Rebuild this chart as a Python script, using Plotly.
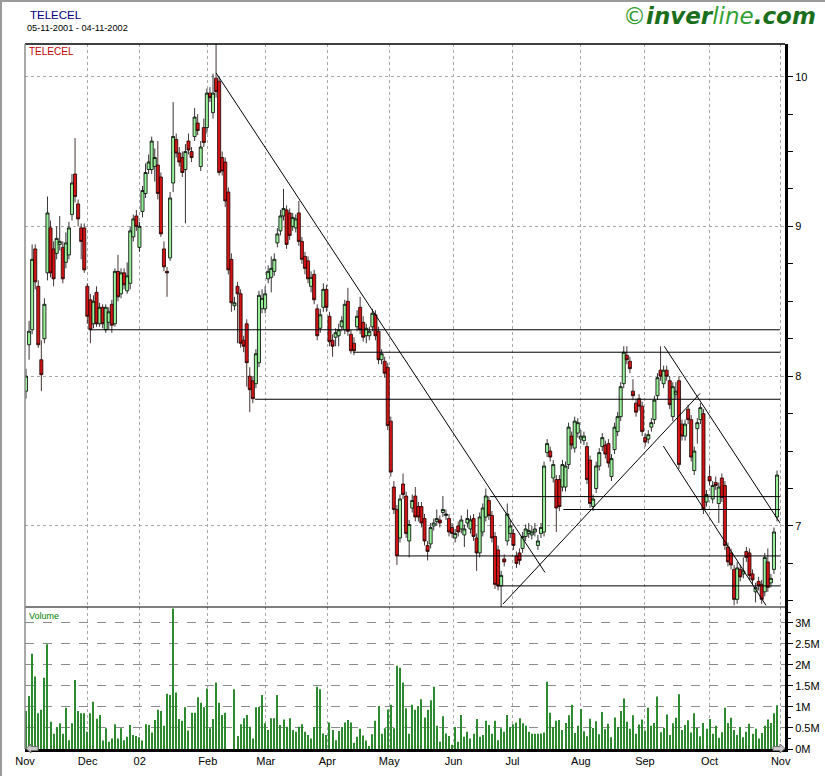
import plotly.graph_objects as go

# ---------------- data ----------------
opens = [7.90,8.21,8.31,8.85,8.60,8.11,8.25,8.69,8.99,8.85,
         8.82,8.88,8.86,8.76,8.81,9.08,9.35,9.15,8.99,8.99,
         8.60,8.51,8.35,8.56,8.35,8.46,8.31,8.36,8.48,8.35,
         8.70,8.55,8.69,8.57,8.62,8.93,9.07,8.86,9.10,9.22,
         9.38,9.38,9.40,9.41,9.33,8.85,8.70,8.79,9.29,9.58,
         9.49,9.46,9.38,9.57,9.50,9.60,9.69,9.40,9.66,9.66,
         9.89,9.76,9.99,9.97,9.46,9.43,9.23,8.78,8.47,8.60,
         8.55,8.24,8.35,8.00,7.97,7.95,8.09,8.45,8.45,8.65,
         8.66,8.70,8.89,8.97,9.07,9.11,9.09,9.00,8.99,9.09,
         8.90,8.80,8.77,8.60,8.68,8.45,8.32,8.46,8.58,8.40,
         8.24,8.26,8.27,8.33,8.31,8.50,8.28,8.22,8.33,8.46,
         8.36,8.27,8.27,8.33,8.41,8.30,8.11,8.10,8.06,7.70,
         7.26,7.11,6.92,7.28,7.20,6.90,7.12,7.20,7.13,7.13,
         7.05,6.87,6.88,7.00,7.03,7.04,7.09,7.07,7.05,6.99,
         6.92,7.00,6.98,6.94,7.02,6.98,7.05,6.92,6.82,6.96,
         7.06,7.17,7.07,6.93,6.84,6.60,6.78,6.90,6.95,6.95,
         6.80,6.82,6.85,6.93,6.95,6.94,6.96,6.87,6.95,6.96,
         7.49,7.50,7.32,7.31,7.31,7.26,7.26,7.41,7.60,7.52,
         7.62,7.58,7.57,7.53,7.44,7.13,7.25,7.40,7.53,7.54,
         7.55,7.33,7.51,7.63,7.73,7.95,8.14,8.10,7.90,7.82,
         7.85,7.80,7.59,7.58,7.66,7.71,7.87,8.04,7.95,8.04,
         7.97,7.73,7.88,7.97,7.68,7.60,7.78,7.71,7.37,7.65,
         7.71,7.75,7.16,7.33,7.18,7.29,7.15,7.32,7.27,6.86,
         6.82,6.71,6.51,6.71,6.68,6.83,6.82,6.68,6.56,6.63,
         6.61,6.56,6.76,6.62,6.71,7.06]
closes = [8.00,8.30,8.78,8.63,8.21,8.01,8.48,9.09,8.69,8.65,
          8.92,8.90,8.65,8.89,8.99,9.29,9.20,9.05,8.90,8.71,
          8.40,8.31,8.50,8.35,8.46,8.35,8.46,8.43,8.34,8.70,
          8.53,8.69,8.61,8.67,8.97,9.05,9.00,9.00,9.24,9.36,
          9.43,9.57,9.46,9.22,8.95,8.73,8.69,9.19,9.60,9.49,
          9.43,9.36,9.50,9.51,9.46,9.73,9.64,9.53,9.56,9.89,
          9.86,9.89,9.90,9.36,9.37,9.17,8.71,8.49,8.49,8.55,
          8.22,8.20,8.09,7.91,7.85,8.15,8.54,8.52,8.55,8.70,
          8.72,8.78,8.95,9.07,9.12,8.88,8.94,9.06,9.05,8.90,
          8.78,8.72,8.65,8.66,8.51,8.27,8.41,8.58,8.46,8.23,
          8.20,8.29,8.31,8.37,8.48,8.30,8.17,8.17,8.40,8.31,
          8.26,8.32,8.30,8.42,8.27,8.11,8.15,8.02,7.67,7.36,
          7.11,6.80,7.18,7.21,6.95,7.01,7.17,7.06,7.06,7.02,
          6.90,6.83,6.99,7.02,7.05,7.02,7.11,7.08,6.96,6.95,
          6.95,6.96,7.04,6.98,7.05,7.04,6.93,6.82,7.06,7.12,
          7.20,7.07,6.92,6.61,6.60,6.67,6.76,7.08,7.00,6.87,
          6.75,6.77,6.93,6.98,6.97,6.96,6.98,6.90,6.99,7.40,
          7.55,7.46,7.41,7.12,7.13,7.41,7.40,7.66,7.54,7.70,
          7.69,7.60,7.60,7.31,7.15,7.18,7.40,7.49,7.59,7.48,
          7.42,7.45,7.66,7.73,7.93,8.16,8.11,8.05,7.87,7.76,
          7.80,7.63,7.56,7.61,7.69,7.84,7.99,8.00,8.04,8.00,
          7.81,7.93,7.90,7.41,7.60,7.68,7.71,7.46,7.50,7.69,
          7.79,7.11,7.21,7.30,7.27,7.27,7.26,7.19,6.87,6.76,
          6.74,6.51,6.72,6.66,6.70,6.79,6.67,6.64,6.59,6.60,
          6.51,6.79,6.59,6.65,6.96,7.34]
highs = [8.05,8.37,8.88,8.88,8.64,8.24,8.52,9.20,9.04,8.90,
         9.00,9.07,8.90,8.96,9.03,9.35,9.59,9.18,9.02,9.02,
         8.62,8.55,8.54,8.60,8.49,8.48,8.48,8.46,8.51,8.72,
         8.81,8.72,8.72,8.76,9.00,9.08,9.11,9.03,9.27,9.42,
         9.48,9.60,9.52,9.57,9.36,8.90,8.73,9.23,9.83,9.62,
         9.53,9.50,9.55,9.62,9.53,9.79,9.75,9.57,9.72,9.92,
         9.93,10.02,10.22,10.00,9.50,9.46,9.26,8.82,8.53,8.63,
         8.58,8.27,8.38,8.06,8.00,8.18,8.57,8.58,8.60,8.74,
         8.80,8.82,8.99,9.11,9.25,9.14,9.12,9.09,9.08,9.17,
         8.93,8.83,8.80,8.70,8.71,8.48,8.45,8.62,8.61,8.43,
         8.28,8.32,8.35,8.40,8.51,8.59,8.31,8.26,8.44,8.53,
         8.40,8.35,8.33,8.45,8.44,8.33,8.18,8.13,8.09,7.73,
         7.30,7.14,7.21,7.35,7.23,7.04,7.21,7.26,7.16,7.16,
         7.08,6.90,7.02,7.05,7.11,7.07,7.20,7.11,7.08,7.02,
         6.98,7.03,7.07,7.01,7.11,7.07,7.08,6.95,7.09,7.15,
         7.25,7.20,7.10,6.96,6.87,6.70,6.81,7.15,7.04,6.98,
         6.83,6.85,6.96,7.01,7.02,7.00,7.02,6.94,7.02,7.43,
         7.58,7.53,7.44,7.34,7.34,7.44,7.43,7.69,7.63,7.73,
         7.72,7.64,7.63,7.56,7.47,7.21,7.43,7.52,7.62,7.57,
         7.58,7.48,7.69,7.76,7.96,8.20,8.20,8.13,7.98,7.85,
         7.88,7.83,7.62,7.64,7.72,7.87,8.02,8.20,8.07,8.07,
         8.00,7.96,7.96,8.00,7.71,7.71,7.81,7.74,7.53,7.72,
         7.82,7.78,7.24,7.40,7.30,7.33,7.29,7.35,7.30,6.89,
         6.85,6.74,6.76,6.74,6.79,6.86,6.85,6.71,6.62,6.66,
         6.64,6.82,6.85,6.68,6.99,7.37]
lows = [7.85,8.11,8.28,8.58,8.19,7.90,8.22,8.64,8.66,8.60,
        8.78,8.84,8.62,8.72,8.78,9.04,9.16,9.00,8.78,8.69,
        8.35,8.22,8.32,8.33,8.33,8.32,8.29,8.31,8.29,8.33,
        8.50,8.52,8.58,8.55,8.58,8.90,8.97,8.83,9.06,9.19,
        9.35,9.35,9.30,9.18,8.93,8.70,8.53,8.77,9.23,9.46,
        9.40,9.33,9.02,9.48,9.43,9.57,9.61,9.37,9.53,9.62,
        9.83,9.72,9.86,9.34,9.34,9.13,8.68,8.43,8.44,8.22,
        8.19,8.16,7.93,7.76,7.82,7.92,8.06,8.42,8.42,8.62,
        8.56,8.67,8.86,8.94,9.04,8.85,8.91,8.97,8.96,8.87,
        8.75,8.68,8.62,8.56,8.48,8.24,8.29,8.43,8.43,8.20,
        8.13,8.20,8.20,8.30,8.28,8.27,8.15,8.14,8.30,8.28,
        8.23,8.22,8.24,8.30,8.24,8.08,8.08,7.99,7.64,7.33,
        7.08,6.74,6.89,7.18,6.92,6.79,7.09,7.03,7.03,6.99,
        6.87,6.77,6.85,6.97,7.00,6.99,7.06,7.04,6.93,6.92,
        6.89,6.93,6.95,6.86,6.99,6.95,6.90,6.70,6.79,6.93,
        7.03,7.04,6.89,6.58,6.57,6.43,6.73,6.87,6.92,6.84,
        6.72,6.74,6.82,6.90,6.92,6.91,6.93,6.84,6.92,6.93,
        7.46,7.43,7.29,6.96,7.10,7.23,7.23,7.38,7.51,7.49,
        7.59,7.55,7.54,7.28,7.12,7.10,7.22,7.37,7.50,7.45,
        7.39,7.30,7.48,7.60,7.70,7.92,8.08,8.02,7.84,7.73,
        7.77,7.60,7.53,7.55,7.63,7.68,7.84,7.97,7.92,7.97,
        7.78,7.70,7.85,7.38,7.57,7.57,7.68,7.43,7.34,7.55,
        7.68,7.08,7.13,7.27,7.15,7.24,7.02,7.16,6.84,6.73,
        6.71,6.47,6.48,6.63,6.65,6.76,6.64,6.61,6.49,6.57,
        6.48,6.53,6.56,6.59,6.68,7.03]
volume_m = [0.90,
    1.26,2.26,1.72,0.85,0.93,1.69,2.49,0.65,0.36,0.52,
    0.61,0.36,0.98,0.21,0.61,1.64,0.90,0.85,0.85,0.41,
    0.85,1.12,0.72,0.81,0.20,0.49,0.17,0.25,0.59,0.25,
    0.49,0.21,0.29,0.57,0.33,0.31,0.28,0.20,0.59,0.57,
    0.39,0.69,0.93,0.90,0.55,1.31,1.28,3.34,1.34,0.71,
    0.67,0.99,0.44,0.86,0.86,1.23,1.10,0.99,1.44,0.49,
    0.71,1.58,1.10,0.81,0.86,0.00,0.00,1.42,0.31,0.59,
    0.73,0.81,0.53,0.25,0.99,1.00,1.28,0.61,0.45,0.73,
    0.73,1.28,0.57,0.70,0.53,0.73,0.45,0.41,0.53,
    0.59,0.41,0.33,0.25,0.52,1.48,1.42,0.37,0.33,0.63,
    0.45,0.21,0.43,0.52,0.63,0.69,0.63,0.15,0.29,0.48,
    0.32,0.20,0.07,0.35,0.67,1.02,0.36,0.49,0.94,1.05,
    0.49,1.98,1.93,1.58,0.97,0.36,1.05,0.93,1.02,1.18,
    0.75,0.93,1.16,1.48,0.55,0.17,0.78,0.37,0.31,0.10,
    0.52,0.17,0.81,0.29,0.41,0.25,0.36,0.71,0.29,0.33,
    0.67,0.57,0.36,0.67,0.21,0.49,0.41,0.81,0.52,0.59,
    0.63,0.73,0.61,0.55,0.41,0.36,0.36,0.36,0.37,0.39,
    1.60,0.86,0.52,0.67,0.69,
    0.45,0.62,0.80,1.05,0.38,0.55,0.95,0.42,0.30,0.72,
    0.50,0.66,0.35,0.88,0.47,0.60,0.28,0.75,0.52,0.90,
    1.20,0.65,0.48,0.80,0.36,0.58,0.70,0.44,0.98,0.55,
    0.62,1.25,0.40,0.50,0.82,0.33,0.61,0.74,1.30,0.45,
    0.57,0.68,0.39,0.85,0.50,0.30,0.62,0.48,0.71,0.36,
    0.55,0.27,0.40,0.98,0.62,0.74,0.45,0.33,0.52,0.28,
    0.41,0.60,0.36,0.48,0.25,0.38,0.55,0.70,0.62,0.85,
    1.04]

# month boundaries (trading-day index) and labels
month_pos = [-0.3, 20.1, 37.1, 59.3, 78.2, 98.3, 118.5, 139.5, 158.7, 181.0, 201.9, 223.0, 246.2]
month_lbl = ["Nov", "Dec", "02", "Feb", "Mar", "Apr", "May", "Jun", "Jul", "Aug", "Sep", "Oct", "Nov"]

# drawn trend lines: (start index, start price, end index, end price)
trend_lines = [(62.0, 10.025, 169.3, 6.69),
               (155.6, 6.479, 219.9, 7.885),
               (208.2, 8.20, 246.0, 7.02),
               (207.9, 7.534, 241.4, 6.47)]
# horizontal support/resistance levels: (start index, price)
levels = [(20.9, 8.31), (106.7, 8.16), (74.7, 7.846), (151.4, 7.196),
          (175.3, 7.11), (121.5, 6.80), (153.6, 6.60)]
level_end = 246.0

price_ticks = [7, 8, 9, 10]
vol_ticks = [0, 0.5, 1, 1.5, 2, 2.5, 3]
vol_tick_lbl = ["0M", "0.5M", "1M", "1.5M", "2M", "2.5M", "3M"]

# ---------------- layout geometry ----------------
W, H = 825, 778
ML, MR, MT, MB = 25, 40, 44, 29
PW, PH = W - ML - MR, H - MT - MB
def px(x):
    return (x - ML) / PW
def py(y):
    return (H - MB - y) / PH
split = py(607)

idx = list(range(len(opens)))
FONT = "Liberation Sans, Arial, sans-serif"

fig = go.Figure()
fig.add_trace(go.Candlestick(
    x=idx, open=opens, high=highs, low=lows, close=closes,
    increasing=dict(fillcolor="#98F098", line=dict(color="black", width=0.8)),
    decreasing=dict(fillcolor="#D41414", line=dict(color="#1a0000", width=0.8)),
    whiskerwidth=0, showlegend=False, hoverinfo="skip",
    xaxis="x", yaxis="y"))
fig.add_trace(go.Bar(
    x=idx, y=volume_m, width=0.33, marker=dict(color="#2e8a2e", line=dict(width=0)),
    showlegend=False, hoverinfo="skip", xaxis="x2", yaxis="y2"))

shapes = []
for (x0, y0, x1, y1) in trend_lines:
    shapes.append(dict(type="line", xref="x", yref="y", x0=x0, y0=y0, x1=x1, y1=y1,
                       line=dict(color="black", width=1)))
for (x0, lv) in levels:
    shapes.append(dict(type="line", xref="x", yref="y", x0=x0, y0=lv, x1=level_end, y1=lv,
                       line=dict(color="black", width=1)))
# panel borders
shapes.append(dict(type="line", xref="paper", yref="paper", x0=0, y0=1, x1=1, y1=1,
                   line=dict(color="black", width=1.5)))
shapes.append(dict(type="line", xref="paper", yref="paper", x0=0, y0=split, x1=1, y1=split,
                   line=dict(color="black", width=1.2)))
shapes.append(dict(type="line", xref="paper", yref="paper", x0=0, y0=0, x1=0, y1=1,
                   line=dict(color="#8c8c8c", width=1.5)))
# outer frame (top & left)
shapes.append(dict(type="line", xref="paper", yref="paper", x0=px(0), y0=py(1), x1=px(825), y1=py(1),
                   line=dict(color="#9a9a9a", width=2)))
shapes.append(dict(type="line", xref="paper", yref="paper", x0=px(1), y0=py(0), x1=px(1), y1=py(776),
                   line=dict(color="#9a9a9a", width=2)))
# scroll arrows
def arrow(pts):
    p = "M " + " L ".join(f"{px(a):.5f},{py(b):.5f}" for a, b in pts) + " Z"
    return dict(type="path", xref="paper", yref="paper", path=p,
                fillcolor="#c8c8c8", line=dict(color="#707070", width=1))
shapes.append(arrow([(26, 748.5), (31, 744), (31, 746.5), (38, 746.5), (38, 750.5), (31, 750.5), (31, 753)]))
shapes.append(arrow([(785, 748.5), (780, 744), (780, 746.5), (773, 746.5), (773, 750.5), (780, 750.5), (780, 753)]))

annotations = [
    dict(text="TELECEL", x=px(28), y=py(15.5), xref="paper", yref="paper", xanchor="left", yanchor="middle",
         showarrow=False, font=dict(family=FONT, size=11.5, color="#000080")),
    dict(text="05-11-2001 - 04-11-2002", x=px(25), y=py(28.5), xref="paper", yref="paper", xanchor="left",
         yanchor="middle", showarrow=False, font=dict(family=FONT, size=9.2, color="black")),
    dict(text="TELECEL", x=px(27), y=py(51.5), xref="paper", yref="paper", xanchor="left", yanchor="middle",
         showarrow=False, font=dict(family=FONT, size=10, color="#C00000")),
    dict(text="Volume", x=px(27), y=py(616), xref="paper", yref="paper", xanchor="left", yanchor="middle",
         showarrow=False, font=dict(family=FONT, size=9, color="#008000")),
    dict(text="<span style='color:#2f9a2f'>©</span><b><i><span style='color:#1b6e1b'>inver</span></i></b>"
              "<i><span style='color:#33a033'>line</span></i><b><i><span style='color:#1b6e1b'>.com</span></i></b>",
         x=px(818), y=py(16), xref="paper", yref="paper", xanchor="right", yanchor="middle",
         showarrow=False, font=dict(family="DejaVu Sans, Verdana, sans-serif", size=23, color="#1b6e1b")),
]

grid_common = dict(showgrid=True, gridcolor="#a8a8a8", griddash="dot", gridwidth=1)

fig.update_layout(
    template="none",
    width=W, height=H, margin=dict(l=ML, r=MR, t=MT, b=MB, autoexpand=False),
    paper_bgcolor="white", plot_bgcolor="white",
    showlegend=False, hovermode=False, boxgap=0.0, boxgroupgap=0.0,
    xaxis=dict(domain=[0, 1], anchor="y", range=[-0.33, 247.6], tickvals=month_pos, automargin=False,
               showticklabels=False, ticks="", zeroline=False, rangeslider=dict(visible=False),
               **grid_common),
    xaxis2=dict(domain=[0, 1], anchor="y2", matches="x", range=[-0.33, 247.6], tickvals=month_pos,
                ticktext=month_lbl, ticks="", zeroline=False, automargin=False,
                showline=True, linecolor="black", linewidth=2.5,
                tickfont=dict(family=FONT, size=11, color="black"), **grid_common),
    yaxis=dict(domain=[split, 1], anchor="x", side="right", range=[6.459, 10.218], automargin=False,
               tickvals=price_ticks, ticks="outside", ticklen=5, tickcolor="black", tickwidth=1,
               showline=True, linecolor="black", linewidth=3, zeroline=False,
               tickfont=dict(family=FONT, size=11, color="black"),
               minor=dict(dtick=0.25, tick0=0, ticks="outside", ticklen=5, tickcolor="black", showgrid=False),
               **grid_common),
    yaxis2=dict(domain=[0, split], anchor="x2", side="right", range=[0, 3.373], automargin=False,
                tickvals=vol_ticks, ticktext=vol_tick_lbl, ticks="outside", ticklen=5,
                tickcolor="black", tickwidth=1, showline=True, linecolor="black", linewidth=3,
                zeroline=False, tickfont=dict(family=FONT, size=11, color="black"),
                minor=dict(dtick=0.25, tick0=0, ticks="outside", ticklen=3, tickcolor="black", showgrid=False),
                showgrid=True, gridcolor="#8c8c8c", griddash="dash", gridwidth=1),
    shapes=shapes, annotations=annotations,
)

fig.write_html("out.html", config={"displayModeBar": False},
               post_script="document.body.style.margin='0px';document.body.style.overflow='hidden';")
